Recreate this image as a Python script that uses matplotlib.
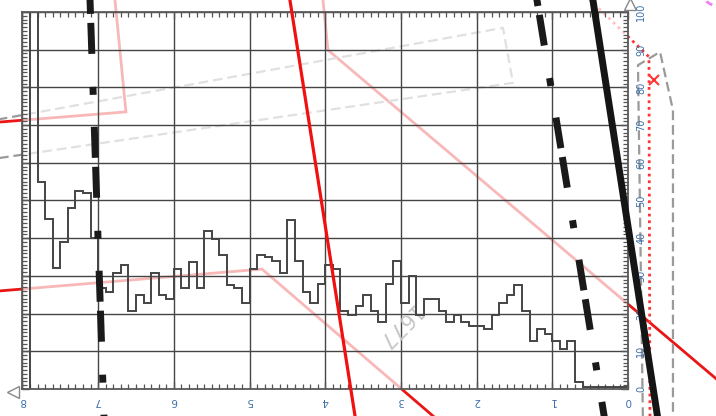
import numpy as np
import matplotlib
matplotlib.use("Agg")
import matplotlib.pyplot as plt
from matplotlib.ticker import MultipleLocator
from matplotlib.patches import Ellipse, Rectangle
from matplotlib.transforms import ScaledTranslation

plt.rcParams['lines.scale_dashes'] = False
plt.rcParams['font.family'] = ['DejaVu Sans']

# ---- histogram: bin heights from x = 7.9 down to x = 0.0 (bin width 0.1) ----
hist_heights = [100, 55.0, 45.0, 32.0, 38.9, 47.9, 52.6, 52.1, 40.0,
                26.9, 25.6, 30.9, 32.9, 20.7, 24.9, 22.7, 30.7, 24.9, 23.8, 31.9,
                26.9, 33.7, 26.9, 41.8, 39.7, 35.6, 27.5, 26.9, 22.7, 31.9,
                35.6, 35.0, 33.9, 30.7, 44.8, 33.9, 25.7, 22.7, 27.8, 32.9,
                31.9, 20.7, 19.7, 22.0, 24.9, 20.7, 17.8, 27.8, 33.9, 22.8,
                30.0, 19.6, 23.8, 23.8, 20.7, 17.8, 19.6, 17.8, 16.8, 16.8,
                15.9, 19.6, 22.8, 24.9, 27.7, 20.7, 12.8, 15.9, 14.7, 12.8,
                10.6, 12.8, 1.8, 0.6, 0.6, 0.6, 0.6, 0.6, 0.6]
hist_edges = np.round(np.linspace(0.0, 7.9, len(hist_heights) + 1), 2)

# ---- axis ticks ----
x_ticks = [0, 1, 2, 3, 4, 5, 6, 7, 8]
y_ticks = [0, 10, 20, 30, 40, 50, 60, 70, 80, 90, 100]

# ---- foreground strokes (data coordinates) ----
dashdot_a_x = [7.112, 6.919]
dashdot_a_y = [105.8, -9.8]
dashdot_b_x = [1.224, 0.294]
dashdot_b_y = [105.8, -9.8]
solid_black_x = [0.484, -0.409]
solid_black_y = [105.8, -9.8]
solid_red_x = [4.487, 3.586]
solid_red_y = [105.8, -9.8]

# ---- background strokes (under the translucent plot area) ----
guide_a_x = [8.429, 6.633, 6.791, 4.043, 3.964, -1.295]
guide_a_y = [70.6, 73.5, 105.8, 105.8, 89.9, 0.5]
guide_b_x = [8.429, 4.836, 2.423]
guide_b_y = [25.8, 31.8, -9.8]
frame_a_x = [8.429, 1.520, 1.652, 8.429]
frame_a_y = [60.9, 81.2, 95.8, 71.1]
frame_b_x = [-0.198, -0.132, -0.423, -0.594, -0.594]
frame_b_y = [-9.8, 85.9, 89.4, 74.0, -9.8]
dotted_x = [0.634, -0.277, -0.290]
dotted_y = [105.8, 88.1, -9.8]
cross_x = [-0.337]
cross_y = [82.0]
ring_center = (-1.546, 103.7)
ring_size = (1.057, 6.4)

stamp_text = "1677"
stamp_pos = (3.052, 16.7)

label_color = '#3d6fa8'

fig = plt.figure(figsize=(7.16, 4.16), dpi=100)
fig.patch.set_facecolor('white')
pos = [0.0314, 0.0649, 0.8457, 0.9063]

ax_bg = fig.add_axes(pos, zorder=0)
ax = fig.add_axes(pos, zorder=1)
for a in (ax_bg, ax):
    a.set_xlim(8, 0)
    a.set_ylim(0, 100)
ax_bg.axis('off')
ax.set_facecolor('none')

# background layer
ax_bg.plot(guide_a_x, guide_a_y, color='#ea1515', lw=2.0, clip_on=False,
           solid_joinstyle='miter', zorder=2)
ax_bg.plot(guide_b_x, guide_b_y, color='#ea1515', lw=2.0, clip_on=False,
           solid_joinstyle='miter', zorder=2)
ax_bg.plot(frame_a_x, frame_a_y, color='#9a9a9a', lw=1.6, ls=(0, (7, 3.5)),
           clip_on=False, zorder=2)
ax_bg.plot(frame_b_x, frame_b_y, color='#9a9a9a', lw=1.6, ls=(0, (7, 3.5)),
           clip_on=False, zorder=2)
ax_bg.plot(dotted_x, dotted_y, color='#ff3535', lw=2.0, ls=(0, (2, 2.8)),
           clip_on=False, zorder=2)
ax_bg.plot(cross_x, cross_y, 'x', color='#ff3535', ms=7, mew=1.5,
           clip_on=False, zorder=2)
ax_bg.add_patch(Ellipse(ring_center, ring_size[0], ring_size[1], fill=False,
                        edgecolor='violet', lw=2.0, ls=(0, (5, 3)),
                        clip_on=False, zorder=2))
ax_bg.add_patch(Rectangle((0, 0), 1, 1.1, transform=ax_bg.transAxes,
                          facecolor='white', alpha=0.7, edgecolor='none',
                          clip_on=False, zorder=5))

# grid, ticks and spines
ax.xaxis.set_minor_locator(MultipleLocator(0.1))
ax.yaxis.set_minor_locator(MultipleLocator(1))
ax.set_xticks(x_ticks)
ax.set_yticks(y_ticks)
ax.grid(which='major', color='#454545', lw=1.0, zorder=0)
ax.set_axisbelow(True)
ax.tick_params(axis='both', which='both', direction='in', colors='#555555',
               top=True, bottom=True, left=True, right=True)
ax.tick_params(axis='both', which='major', length=5, width=1)
ax.tick_params(axis='both', which='minor', length=3.5, width=0.9)
ax.tick_params(axis='x', labelsize=7.5, pad=5, labelcolor=label_color)
ax.tick_params(axis='y', labelleft=False, labelright=True,
               labelsize=7, pad=6, labelcolor=label_color)
for lab in ax.get_xticklabels():
    lab.set_rotation(180)
    lab.set_rotation_mode('default')
for lab in ax.get_yticklabels():
    lab.set_rotation(90)
    lab.set_verticalalignment('center')
for s in ax.spines.values():
    s.set_color('#5a5a5a')
    s.set_linewidth(1.3)

# histogram outline
ax.stairs(hist_heights[::-1], hist_edges, color='#444444', lw=1.4, zorder=2)

# rotated stamp
ax.text(stamp_pos[0], stamp_pos[1], stamp_text, rotation=225, fontsize=15,
        color='#c6c6c6', ha='center', va='center', zorder=1)

# overlay strokes
ax.plot(solid_red_x, solid_red_y, color='#f01010', lw=2.3, clip_on=False,
        zorder=3)
dd_pattern = (5.76, 23.04, 22.32, 6.48, 22.32, 23.76)
ax.plot(dashdot_a_x, dashdot_a_y, color='#1a1a1a', lw=5,
        ls=(40.4, dd_pattern), clip_on=False, zorder=4)
ax.plot(dashdot_b_x, dashdot_b_y, color='#1a1a1a', lw=5,
        ls=(46.0, dd_pattern), clip_on=False, zorder=4)
ax.plot(solid_black_x, solid_black_y, color='#151515', lw=5, clip_on=False,
        zorder=4)

# axis arrowheads
ax.plot([0], [0], marker='<', ms=9, mfc='white', mec='#888888', mew=1,
        transform=ax.transAxes + ScaledTranslation(-0.09, -0.03, fig.dpi_scale_trans),
        clip_on=False, zorder=5)
ax.plot([1], [1], marker='^', ms=9, mfc='white', mec='#888888', mew=1,
        transform=ax.transAxes + ScaledTranslation(0.02, 0.08, fig.dpi_scale_trans),
        clip_on=False, zorder=5)

fig.savefig('out.png', dpi=100, facecolor='white')
